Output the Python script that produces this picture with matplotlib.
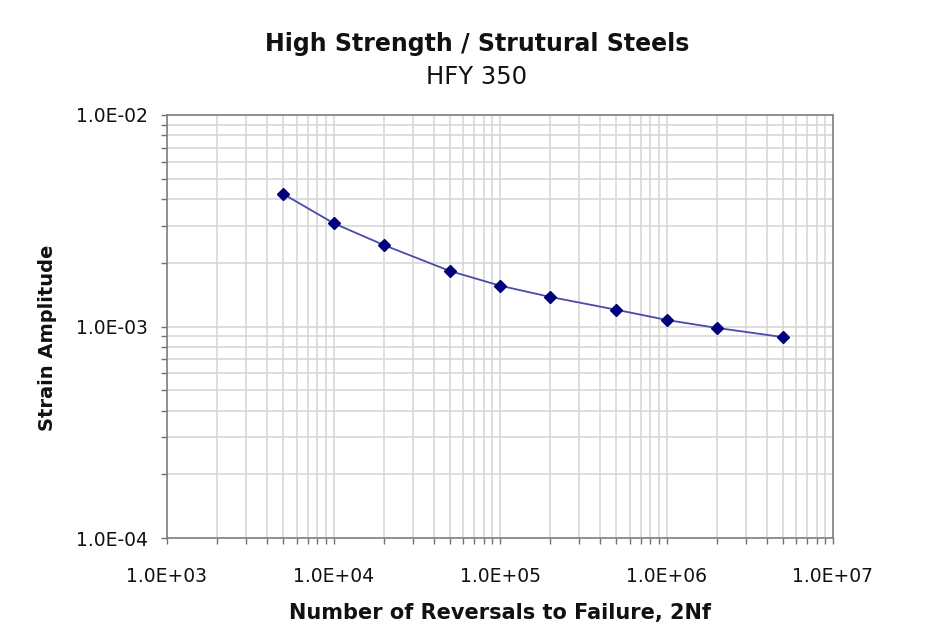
import matplotlib
matplotlib.use("Agg")
import matplotlib.pyplot as plt
from matplotlib.ticker import FixedLocator, LogLocator, NullFormatter

# reversals to failure, 2Nf
reversals = [5e3, 1e4, 2e4, 5e4, 1e5, 2e5, 5e5, 1e6, 2e6, 5e6]
# strain amplitude
strain = [4.23e-3, 3.08e-3, 2.43e-3, 1.83e-3, 1.56e-3, 1.38e-3, 1.20e-3, 1.074e-3, 0.985e-3, 0.891e-3]

x_ticks = [1e3, 1e4, 1e5, 1e6, 1e7]
x_labels = ["1.0E+03", "1.0E+04", "1.0E+05", "1.0E+06", "1.0E+07"]
y_ticks = [1e-4, 1e-3, 1e-2]
y_labels = ["1.0E-04", "1.0E-03", "1.0E-02"]

plt.rcParams["font.family"] = ["DejaVu Sans"]

W, H = 936, 639
fig = plt.figure(figsize=(W / 100, H / 100), dpi=100)
ax = fig.add_axes([167 / W, 1 - 538 / H, 666 / W, 423 / H])

ax.loglog(reversals, strain, "-", color="#4a4aa8", lw=1.3, zorder=3)
ax.loglog(reversals, strain, "D", color="#00007a", ms=6, zorder=4)

ax.set_xlim(1e3, 1e7)
ax.set_ylim(1e-4, 1e-2)

ax.xaxis.set_major_locator(FixedLocator(x_ticks))
ax.set_xticklabels(x_labels)
ax.yaxis.set_major_locator(FixedLocator(y_ticks))
ax.set_yticklabels(y_labels)
ax.xaxis.set_minor_locator(LogLocator(base=10, subs=range(2, 10)))
ax.yaxis.set_minor_locator(LogLocator(base=10, subs=range(2, 10)))
ax.xaxis.set_minor_formatter(NullFormatter())
ax.yaxis.set_minor_formatter(NullFormatter())

ax.tick_params(which="both", direction="out", length=4, width=1, color="#707070",
               labelsize=13.5, labelcolor="#111111")
ax.tick_params(axis="x", which="major", pad=17)
ax.tick_params(axis="y", which="major", pad=10)

ax.grid(True, which="both", color="#d4d4d4", lw=1.1)
ax.set_axisbelow(True)
for s in ax.spines.values():
    s.set_color("#808080")
    s.set_linewidth(1.2)

fig.text(500 / W, 1 - 613 / H, "Number of Reversals to Failure, 2Nf",
         ha="center", va="center", fontsize=15, fontweight="bold", color="#111111")
fig.text(48 / W, 1 - 338 / H, "Strain Amplitude", rotation=90,
         ha="center", va="center", fontsize=14, fontweight="bold", color="#111111")

fig.text(477 / W, 1 - 44 / H, "High Strength / Strutural Steels",
         ha="center", va="center", fontsize=17, fontweight="bold", color="#111111")
fig.text(477 / W, 1 - 77 / H, "HFY 350",
         ha="center", va="center", fontsize=17.5, color="#111111")

fig.savefig("out.png", dpi=100)
